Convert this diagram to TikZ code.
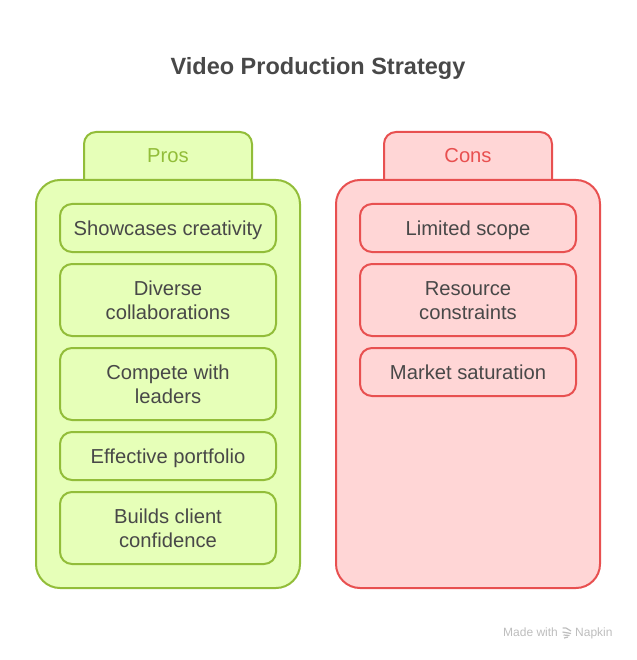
\documentclass[tikz,border=0pt]{standalone}
\usepackage{fontspec}
\setmainfont{Liberation Sans}
\definecolor{gfill}{HTML}{E6FFB8}
\definecolor{gline}{HTML}{92BD39}
\definecolor{rfill}{HTML}{FFD6D6}
\definecolor{rline}{HTML}{E85050}
\definecolor{ink}{HTML}{484848}
\definecolor{footgray}{HTML}{BDBDBD}
\newcommand\lst{\rule[-5pt]{0pt}{24pt}}
\tikzset{
  x=1pt,y=-1pt,
  panel/.style={line width=2pt,rounded corners=24pt},
  tabshape/.style={line width=2pt,rounded corners=12pt},
  item/.style={draw,line width=2pt,rounded corners=12pt,minimum width=216pt,align=center,
    text=ink,font=\fontsize{20.2}{24}\selectfont,inner sep=0pt,outer sep=0pt,anchor=north},
  one/.style={item,minimum height=48pt},
  two/.style={item,minimum height=72pt},
  prosbox/.style={draw=gline,fill=gfill},
  consbox/.style={draw=rline,fill=rfill},
  tablabel/.style={font=\fontsize{20.2}{24}\selectfont,inner sep=0pt}
}
\begin{document}
\begin{tikzpicture}
\useasboundingbox (0,0) rectangle (636,660);
\node[text=ink,font=\bfseries\fontsize{23.5}{28}\selectfont,inner sep=0pt,anchor=base] (title) at (318,74.5) {Video Production Strategy};
% Pros
\path[prosbox,tabshape] (84,181) -- (84,132) -- (252,132) -- (252,181);
\draw[prosbox,panel] (36,180) rectangle (300,588);
\node[tablabel,text=gline] (prosl) at (168,156) {\lst Pros};
\node[one,prosbox] (p1) at (168,204) {\lst Showcases creativity};
\node[two,prosbox] (p2) at (168,264) {\lst Diverse\\\lst collaborations};
\node[two,prosbox] (p3) at (168,348) {\lst Compete with\\\lst leaders};
\node[one,prosbox] (p4) at (168,432) {\lst Effective portfolio};
\node[two,prosbox] (p5) at (168,492) {\lst Builds client\\\lst confidence};
% Cons
\path[consbox,tabshape] (384,181) -- (384,132) -- (552,132) -- (552,181);
\draw[consbox,panel] (336,180) rectangle (600,588);
\node[tablabel,text=rline] (consl) at (468,156) {\lst Cons};
\node[one,consbox] (c1) at (468,204) {\lst Limited scope};
\node[two,consbox] (c2) at (468,264) {\lst Resource\\\lst constraints};
\node[one,consbox] (c3) at (468,348) {\lst Market saturation};
% footer
\node[text=footgray,font=\fontsize{12}{14}\selectfont,inner sep=0pt,anchor=base west] (made) at (503,636.5) {Made with};
\node[text=footgray,font=\fontsize{12}{14}\selectfont,inner sep=0pt,anchor=base west] (napkin) at (575,636.5) {Napkin};
\draw[footgray,line width=1.2pt] (562.5,628) -- (566,628) -- (571,631) (562.5,632) -- (571,633.5) (563.5,635) -- (569.5,635.5) (564,638) -- (568,637);
\end{tikzpicture}
\end{document}
